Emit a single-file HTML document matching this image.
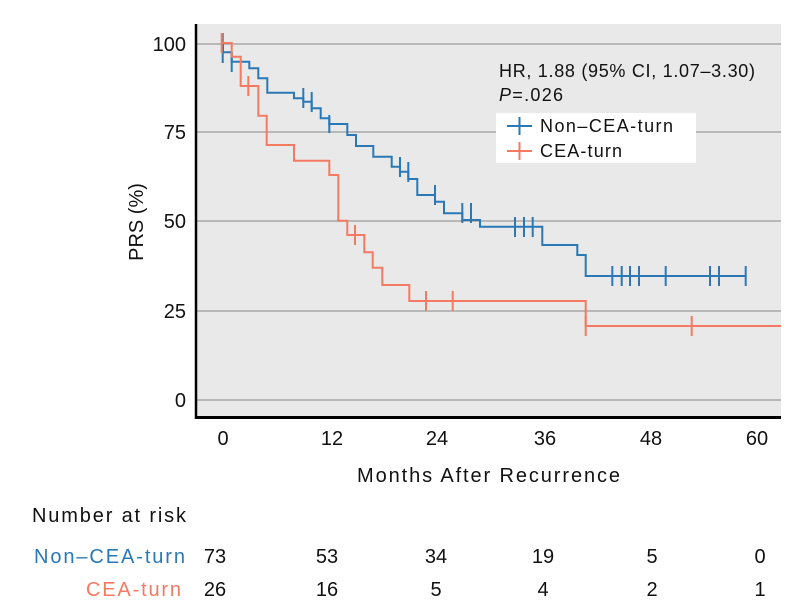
<!DOCTYPE html>
<html><head><meta charset="utf-8"><style>
html,body{margin:0;padding:0;background:#fff;}
svg{display:block;font-family:"Liberation Sans",sans-serif;}
</style></head><body>
<svg width="795" height="613" viewBox="0 0 795 613" xmlns="http://www.w3.org/2000/svg">
<rect x="196" y="24" width="585" height="393" fill="#e9e9e9"/>
<g stroke="#a8a8a8" stroke-width="1.5">
<line x1="196" y1="44" x2="781" y2="44"/>
<line x1="196" y1="132" x2="781" y2="132"/>
<line x1="196" y1="221" x2="781" y2="221"/>
<line x1="196" y1="311" x2="781" y2="311"/>
<line x1="196" y1="400" x2="781" y2="400"/>
</g>
<line x1="196" y1="24" x2="196" y2="419" stroke="#000" stroke-width="2.5"/>
<line x1="195" y1="417.5" x2="781" y2="417.5" stroke="#000" stroke-width="3"/>
<g font-size="20" fill="#111" text-anchor="end">
<text x="186" y="51">100</text><text x="186" y="139">75</text><text x="186" y="228">50</text><text x="186" y="318">25</text><text x="186" y="407">0</text>
</g>
<g font-size="20" fill="#111" text-anchor="middle">
<text x="223" y="445">0</text><text x="332" y="445">12</text><text x="437" y="445">24</text><text x="545" y="445">36</text><text x="651" y="445">48</text><text x="757" y="445">60</text>
</g>
<text x="357" y="482" font-size="20" fill="#111" textLength="263" lengthAdjust="spacing">Months After Recurrence</text>
<text transform="translate(143,222) rotate(-90)" font-size="20" fill="#111" text-anchor="middle">PRS (%)</text>
<!-- blue -->
<path fill="none" stroke="#2a78b5" stroke-width="2" d="M223,44 V52.3 H231.7 V61.7 H249.3 V68.3 H258.3 V78.3 H267.3 V92.7 H294 V98.3 H303.3 V101.7 H311.7 V108.3 H320.7 V118.3 H329.3 V124 H347.3 V135 H356 V146 H373.3 V156.7 H391.7 V166.7 H400 V171.7 H408.3 V179 H417.3 V195 H435 V201.7 H444 V213.3 H462.3 V220 H480 V226.7 H542.3 V245 H577.3 V255 H585.7 V276 H745.7"/>
<g stroke="#2a78b5" stroke-width="2">
<path d="M222.7,33V63 M231.7,52V72 M303.3,88V108 M311.7,92V112 M329.3,115V133 M400,157V177 M408.3,162V182 M435,185V205 M462.3,203V223 M471,203V223 M515,217V237 M524,217V237 M532.7,217V237 M612.3,266V286 M621.7,266V286 M630,266V286 M639,266V286 M665.7,266V286 M710,266V286 M719,266V286 M745.7,266V286"/>
</g>
<!-- orange -->
<path fill="none" stroke="#f47a62" stroke-width="2" d="M222,43 H231.7 V56.7 H240.7 V86 H258.3 V115.7 H266.7 V145 H294 V160.7 H329.3 V175 H338.3 V220.7 H347.3 V235 H364.3 V252.3 H372.7 V267.7 H382.3 V285 H409.3 V301 H585.7 V326 H781"/>
<g stroke="#f47a62" stroke-width="2">
<path d="M221.7,33V53 M248.3,76V96 M355,225V245 M426,291V311 M452.7,291V311 M585.7,316V336 M691.7,316V336"/>
</g>
<!-- annotation -->
<text x="499" y="77" font-size="18" fill="#111" textLength="256" lengthAdjust="spacing">HR, 1.88 (95% CI, 1.07–3.30)</text>
<text x="499" y="101" font-size="18" fill="#111" textLength="64" lengthAdjust="spacing"><tspan font-style="italic">P</tspan>=.026</text>
<rect x="496" y="113" width="200" height="50" fill="#fff"/>
<path d="M507,126H532 M519.5,117V135" stroke="#2a78b5" stroke-width="2"/>
<path d="M507,151H532 M519.5,142V160" stroke="#f47a62" stroke-width="2"/>
<text x="540" y="132" font-size="18" fill="#111" textLength="133" lengthAdjust="spacing">Non–CEA-turn</text>
<text x="540" y="157" font-size="18" fill="#111" textLength="82" lengthAdjust="spacing">CEA-turn</text>
<!-- risk table -->
<text x="32" y="522" font-size="20" fill="#111" textLength="154" lengthAdjust="spacing">Number at risk</text>
<text x="34" y="563" font-size="20" fill="#2a78b5" textLength="151" lengthAdjust="spacing">Non–CEA-turn</text>
<text x="86" y="596" font-size="20" fill="#f47a62" textLength="95" lengthAdjust="spacing">CEA-turn</text>
<g font-size="20" fill="#111" text-anchor="middle">
<text x="215" y="563">73</text><text x="327" y="563">53</text><text x="436" y="563">34</text><text x="543" y="563">19</text><text x="652" y="563">5</text><text x="760" y="563">0</text>
<text x="215" y="596">26</text><text x="327" y="596">16</text><text x="436" y="596">5</text><text x="543" y="596">4</text><text x="652" y="596">2</text><text x="760" y="596">1</text>
</g>
</svg>
</body></html>
